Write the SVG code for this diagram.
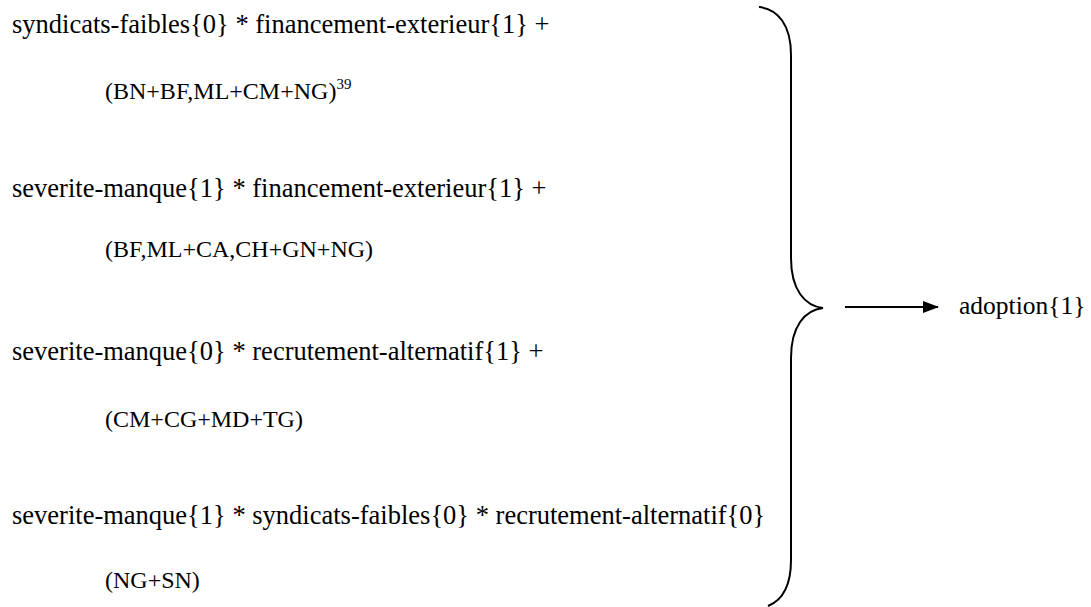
<svg xmlns="http://www.w3.org/2000/svg" width="1091" height="607" viewBox="0 0 1091 607" font-family="'Liberation Serif', 'Times New Roman', Times, 'DejaVu Serif', serif">
<style>
text{font-family:'Liberation Serif', 'Times New Roman', Times, 'DejaVu Serif', serif;fill:#000}
.m{font-size:26.5px}
.r{font-size:25.5px}
.s{font-size:24px}
.sup{font-size:15px}
.brace{fill:none;stroke:#000;stroke-width:2}
.conn{fill:none;stroke:#000;stroke-width:2}
</style>
<defs>
<marker id="ah" markerWidth="16" markerHeight="12" refX="15" refY="6" orient="auto" markerUnits="userSpaceOnUse">
<path d="M0,0 L16,6 L0,12 Z" fill="#000"/>
</marker>
</defs>
<g id="term1">
<text class="m" x="12" y="33">syndicats-faibles{0} * financement-exterieur{1} +</text>
<text class="s" x="105" y="99">(BN+BF,ML+CM+NG)<tspan class="sup" dy="-10">39</tspan></text>
</g>
<g id="term2">
<text class="m" x="12" y="197">severite-manque{1} * financement-exterieur{1} +</text>
<text class="s" x="105" y="257">(BF,ML+CA,CH+GN+NG)</text>
</g>
<g id="term3">
<text class="m" x="12" y="360">severite-manque{0} * recrutement-alternatif{1} +</text>
<text class="s" x="105" y="427">(CM+CG+MD+TG)</text>
</g>
<g id="term4">
<text class="m" x="12" y="524">severite-manque{1} * syndicats-faibles{0} * recrutement-alternatif{0}</text>
<text class="s" x="105" y="588">(NG+SN)</text>
</g>
<g id="brace">
<path class="brace" d="M759,7 C778,9 791,25 791,55 L791,258 C791,290 805,306 823,308 C805,310 791,326 791,358 L791,560 C791,585 783,600 768,606"/>
</g>
<g id="result">
<text class="r" x="959" y="314">adoption{1}</text>
</g>
<g id="connectors">
<line class="conn" x1="845" y1="307" x2="938" y2="307" marker-end="url(#ah)"/>
</g>
</svg>
